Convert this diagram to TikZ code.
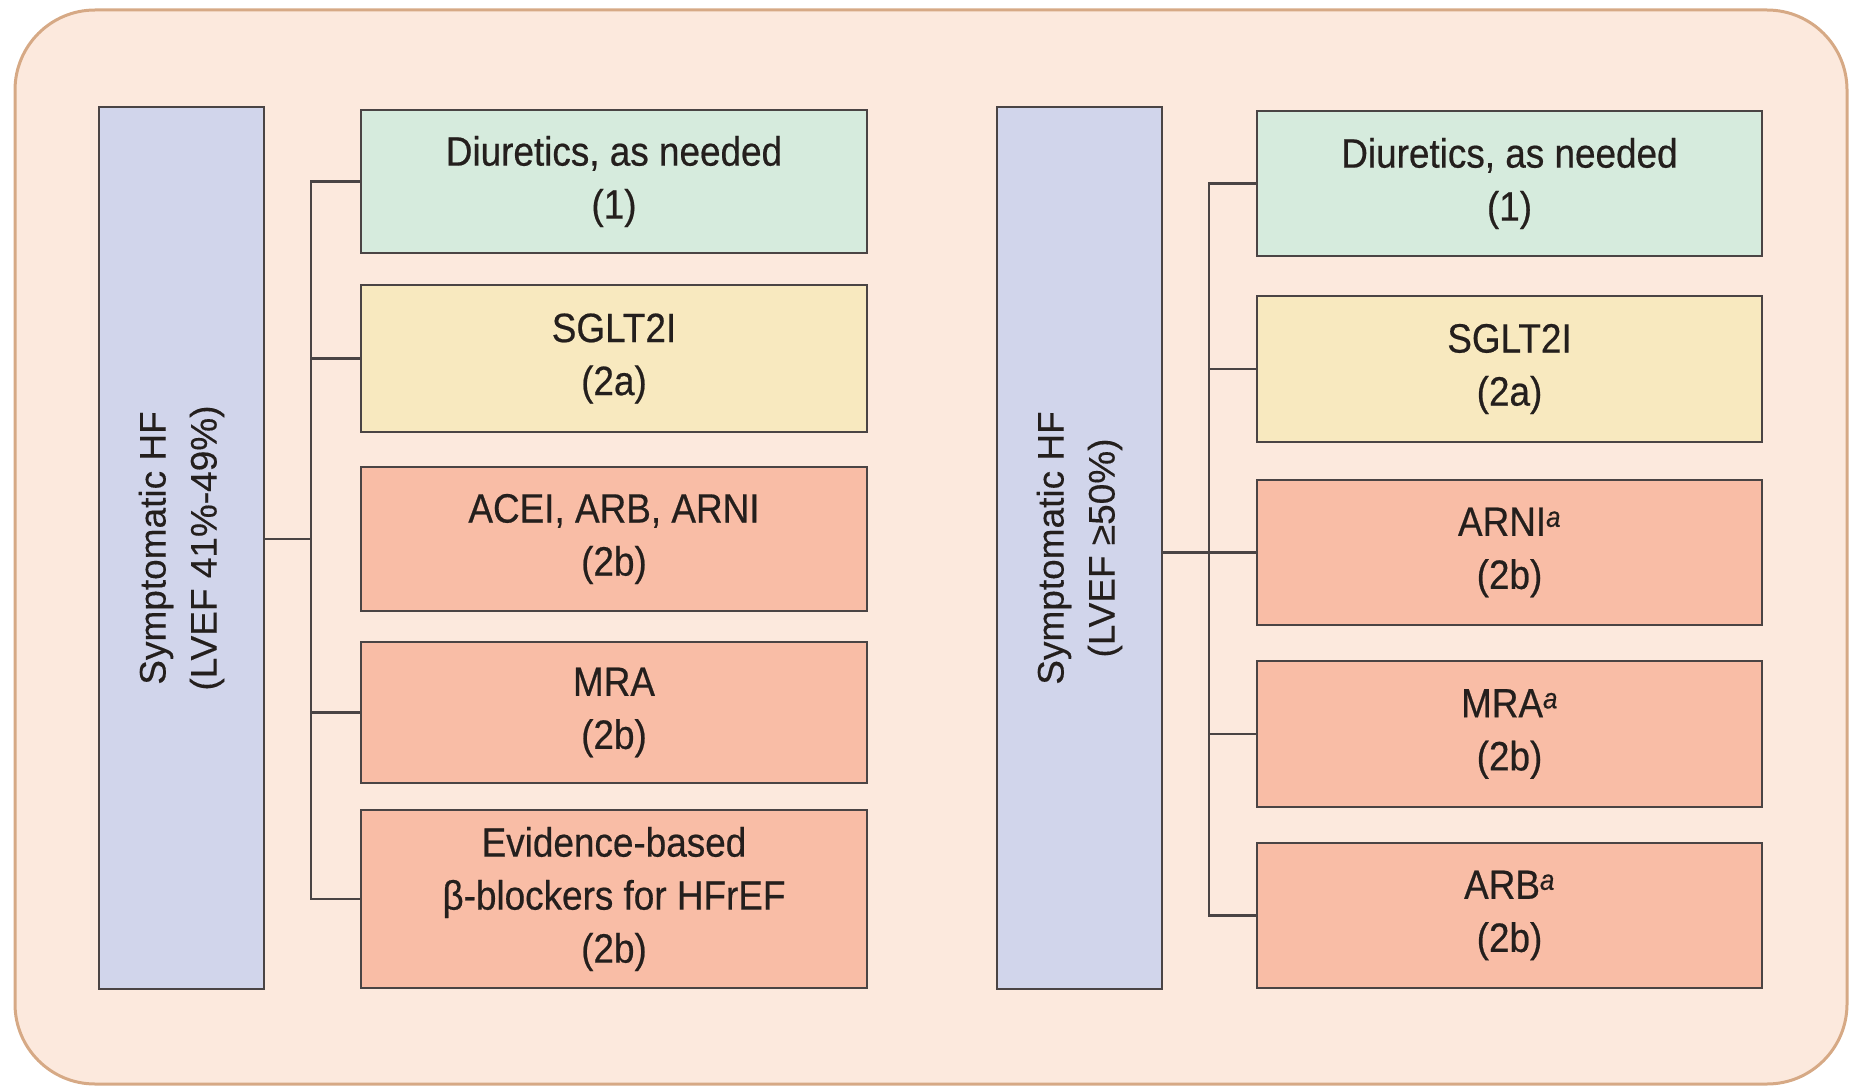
\documentclass[tikz,border=0pt]{standalone}
\usepackage{fontspec}
\setmainfont{Liberation Sans}
\newfontfamily\drugfont[FakeStretch=0.9,FakeBold=0.5]{Liberation Sans}
\newfontfamily\hffont[FakeBold=0.3]{Liberation Sans}

\definecolor{panelbg}{HTML}{FCE9DD}
\definecolor{panelrim}{HTML}{D6A985}
\definecolor{hfblue}{HTML}{D1D5EB}
\definecolor{recgreen}{HTML}{D6EBDD}
\definecolor{recyellow}{HTML}{F8E9BF}
\definecolor{recsalmon}{HTML}{F9BDA6}
\definecolor{edge}{HTML}{4A4444}
\definecolor{ink}{HTML}{241F1D}

\tikzset{
  hfbox/.style={draw=edge, fill=hfblue, line width=2.5pt, rotate=90,
    minimum width=882pt, minimum height=165pt, inner sep=0pt,
    align=center, text=ink, font=\hffont\fontsize{37}{51}\selectfont},
  drugbox/.style={draw=edge, line width=2.5pt, inner sep=0pt,
    align=center, text=ink, font=\drugfont\fontsize{41}{53}\selectfont},
  lbox/.style={drugbox, minimum width=506pt},
  rbox/.style={drugbox, minimum width=505pt},
  wire/.style={draw=edge, line width=2.6pt},
}

\newcommand{\supa}{\textsuperscript{\itshape a}}

\begin{document}
\begin{tikzpicture}[x=1pt,y=-1pt]
\useasboundingbox (0,0) rectangle (1857,1091);

% outer panel
\draw[panelrim, fill=panelbg, line width=3pt, rounded corners=80pt]
  (15,10) rectangle (1847,1084);

% ---- left group: LVEF 41%-49%
\node[hfbox] (hfL) at (181.5,548) {Symptomatic HF\\(LVEF 41\%-49\%)};
\node[lbox, fill=recgreen,  minimum height=143pt] (diurL) at (614,181.5) {Diuretics, as needed\\(1)};
\node[lbox, fill=recyellow, minimum height=147pt] (sgltL) at (614,358.5) {SGLT2I\\(2a)};
\node[lbox, fill=recsalmon, minimum height=144pt] (aceiL) at (614,539) {ACEI, ARB, ARNI\\(2b)};
\node[lbox, fill=recsalmon, minimum height=141pt] (mraL)  at (614,712.5) {MRA\\(2b)};
\node[lbox, fill=recsalmon, minimum height=178pt] (betaL) at (614,899) {Evidence-based\\β-blockers for HFrEF\\(2b)};

\coordinate (spineL) at (311,0);
\draw[wire] (diurL.west) -- (diurL.west -| spineL) |- (betaL.west);
\draw[wire] (sgltL.west) -- (sgltL.west -| spineL);
\draw[wire] (mraL.west) -- (mraL.west -| spineL);
\draw[wire] (hfL.south |- aceiL.west) -- (aceiL.west -| spineL);

% ---- right group: LVEF >=50%
\node[hfbox] (hfR) at (1079.5,548) {Symptomatic HF\\(LVEF ≥50\%)};
\node[rbox, fill=recgreen,  minimum height=145pt] (diurR) at (1509.5,183.5) {Diuretics, as needed\\(1)};
\node[rbox, fill=recyellow, minimum height=146pt] (sgltR) at (1509.5,369) {SGLT2I\\(2a)};
\node[rbox, fill=recsalmon, minimum height=145pt] (arniR) at (1509.5,552.5) {ARNI\supa\\(2b)};
\node[rbox, fill=recsalmon, minimum height=146pt] (mraR)  at (1509.5,734) {MRA\supa\\(2b)};
\node[rbox, fill=recsalmon, minimum height=145pt] (arbR)  at (1509.5,915.5) {ARB\supa\\(2b)};

\coordinate (spineR) at (1209,0);
\draw[wire] (diurR.west) -- (diurR.west -| spineR) |- (arbR.west);
\draw[wire] (sgltR.west) -- (sgltR.west -| spineR);
\draw[wire] (mraR.west) -- (mraR.west -| spineR);
\draw[wire] (hfR.south |- arniR.west) -- (arniR.west);
\end{tikzpicture}
\end{document}
